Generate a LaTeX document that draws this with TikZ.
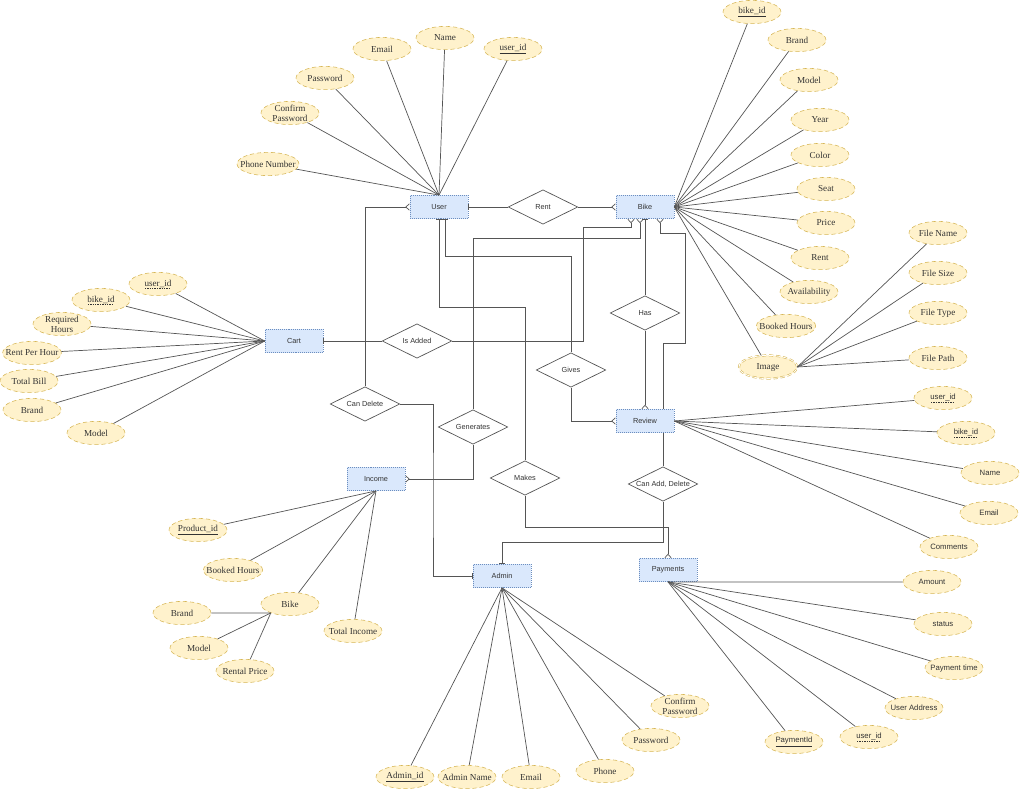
\documentclass[tikz,border=0pt]{standalone}
\usepackage{fontspec}
\setmainfont{Liberation Serif}
\setsansfont{Liberation Sans}
\usetikzlibrary{arrows.meta}
\usetikzlibrary{shapes.geometric}
\usetikzlibrary{calc}
\definecolor{entfill}{HTML}{DAE8FC}
\definecolor{entline}{HTML}{6C8EBF}
\definecolor{attfill}{HTML}{FFF2CC}
\definecolor{attline}{HTML}{D6B656}
\definecolor{linkgray}{HTML}{555555}
\definecolor{txt}{HTML}{333333}
\newcommand{\dashul}[1]{\setbox0\hbox{#1}\leavevmode\rlap{\raisebox{-1.6pt}{\hbox to \wd0{\cleaders\hbox{\rule{1pt}{0.3pt}\hskip0.7pt}\hfill}}}\box0}
\tikzset{entity/.style = {rectangle, draw=entline, densely dotted, fill=entfill,
                          minimum width=1.45cm, minimum height=0.58cm, inner sep=0pt,
                          font=\sffamily\fontsize{5.2}{6}\selectfont, text=txt},
         attr/.style = {ellipse, draw=attline, densely dashed, fill=attfill,
                        minimum width=1.45cm, minimum height=0.58cm, inner xsep=-4pt, inner ysep=-2pt,
                        align=center, font=\fontsize{6.5}{7}\selectfont, text=txt},
         rel/.style = {diamond, aspect=2, draw=linkgray, fill=white, line width=0.5pt,
                       minimum width=1.74cm, minimum height=0.86cm, inner sep=0pt,
                       font=\sffamily\fontsize{5.2}{6}\selectfont, text=txt},
         link/.style = {draw=linkgray, line width=0.5pt},
         one/.style = {link, -{Bar[width=4pt]}},
         many/.style = {link, -{Straight Barb[reversed, length=2.5pt, width=4.5pt]}}}

\begin{document}
\begin{tikzpicture}[x=0.025cm, y=-0.025cm]
    \useasboundingbox (0,0) rectangle (1024,789);

    \node [entity] (user) at (439,207) {User};
    \node [entity] (bike) at (645,207) {Bike};
    \node [entity] (cart) at (294,341) {Cart};
    \node [entity] (review) at (645,421) {Review};
    \node [entity] (income) at (376,479) {Income};
    \node [entity] (admin) at (502,576) {Admin};
    \node [entity] (payments) at (668,570) {Payments};

    \node [rel] (rent) at (543,207) {Rent};
    \node [rel] (has) at (645,313) {Has};
    \node [rel] (isadded) at (417,341) {Is Added};
    \node [rel] (gives) at (571,370) {Gives};
    \node [rel] (candelete) at (365,404) {Can Delete};
    \node [rel] (generates) at (473,427) {Generates};
    \node [rel] (makes) at (525,478) {Makes};
    \node [rel] (canadd) at (663,484) {Can Add, Delete};

    \draw [one] (rent.west) -- (user.east);
    \draw [many] (rent.east) -- (bike.west);
    \draw [many] (candelete.north) |- (user.west);
    \draw [one] (candelete.east) -| (433,500) |- (admin.west);
    \draw [one] (gives.north) |- (571,256) -| ($(user.south)+(6,0)$);
    \draw [one] (makes.north) |- (525,307) -| (user.south);
    \draw [one] (isadded.west) -- (cart.east);
    \draw [many] (isadded.east) -| (583,227) -| ($(bike.south)+(-14,0)$);
    \draw [many] (generates.north) |- (473,238) -| ($(bike.south)+(-5,0)$);
    \draw [many] (generates.south) |- (income.east);
    \draw [one] (has.north) -- (bike.south);
    \draw [many] (has.south) -- (review.north);
    \draw [many] ($(review.north)+(18,0)$) |- (663,343) -| (685,233) -| ($(bike.south)+(15,0)$);
    \draw [link] ($(review.south)+(18,0)$) -- (canadd.north);
    \draw [one] (canadd.south) -- (663,542) -| (admin.north);
    \draw [many] (makes.south) -- (525,527) -| (payments.north);
    \draw [many] (gives.south) |- (review.west);

    \foreach \n/\x/\y/\t in {uemail/382/49/Email, uname/445/38/Name, uid/513/49/\underline{user\_id},
                             upass/325/78/Password, uconf/290/113/{Confirm\\Password},
                             uphone/268/164/Phone Number} {
      \node [attr] (\n) at (\x,\y) {\t};
      \draw [link] (\n) -- (user.north);
    }

    \foreach \n/\x/\y/\t in {bid/752/12/\underline{bike\_id}, bbrand/797/40/Brand, bmodel/809/80/Model,
                             byear/820/120/Year, bcolor/820/155/Color, bseat/826/189/Seat,
                             bprice/826/223/Price, brent/820/258/Rent, bavail/809/292/Availability,
                             bbooked/786/326/Booked Hours} {
      \node [attr] (\n) at (\x,\y) {\t};
      \draw [link] (\n) -- (bike.east);
    }
    \node [attr, double, double distance=0.6pt] (image) at (768,367) {Image};
    \draw [link] (image) -- (bike.east);
    \foreach \n/\x/\y/\t in {fname/938/233/File Name, fsize/938/273/File Size,
                             ftype/938/313/File Type, fpath/938/358/File Path} {
      \node [attr] (\n) at (\x,\y) {\t};
      \draw [link] (\n) -- (image.east);
    }

    \foreach \n/\x/\y/\t in {cuid/158/284/\dashul{user\_id}, cbid/101/300/\dashul{bike\_id},
                             creq/62/324/{Required\\Hours}, crph/32/353/Rent Per Hour,
                             ctotal/29/381/Total Bill, cbrand/32/410/Brand, cmodel/96/433/Model} {
      \node [attr] (\n) at (\x,\y) {\t};
      \draw [link] (\n) -- (cart.west);
    }

    \foreach \n/\x/\y/\t in {ruid/943/398/\dashul{user\_id}, rbid/966/433/\dashul{bike\_id},
                             rname/990/473/Name, remail/989/513/Email, rcomm/949/547/Comments} {
      \node [attr, font=\sffamily\fontsize{5.5}{6.5}\selectfont] (\n) at (\x,\y) {\t};
      \draw [link] (\n) -- (review.east);
    }

    \foreach \n/\x/\y/\t in {ipid/198/530/\underline{Product\_id}, ibooked/233/570/Booked Hours,
                             ibike/290/604/Bike, itotal/353/631/Total Income} {
      \node [attr] (\n) at (\x,\y) {\t};
      \draw [link] (\n) -- (income.south);
    }
    \foreach \n/\x/\y/\t in {ibrand/182/613/Brand, imodel/199/648/Model, iprice/245/671/Rental Price} {
      \node [attr] (\n) at (\x,\y) {\t};
      \draw [link] (\n) -- (ibike.205);
    }

    \foreach \n/\x/\y/\t in {aid/405/777/\underline{Admin\_id}, aname/467/777/Admin Name,
                             aemail/531/777/Email, aphone/605/771/Phone, apass/651/740/Password,
                             aconf/680/706/{Confirm\\Password}} {
      \node [attr] (\n) at (\x,\y) {\t};
      \draw [link] (\n) -- (admin.south);
    }

    \foreach \n/\x/\y/\t in {pamount/932/582/Amount, pstatus/943/624/status,
                             ptime/954/668/Payment time, paddr/914/708/User Address,
                             puid/869/737/\dashul{user\_id}, ppid/794/742/\underline{PaymentId}} {
      \node [attr, font=\sffamily\fontsize{5.5}{6.5}\selectfont] (\n) at (\x,\y) {\t};
      \draw [link] (\n) -- (payments.south);
    }
  \end{tikzpicture}
\end{document}
